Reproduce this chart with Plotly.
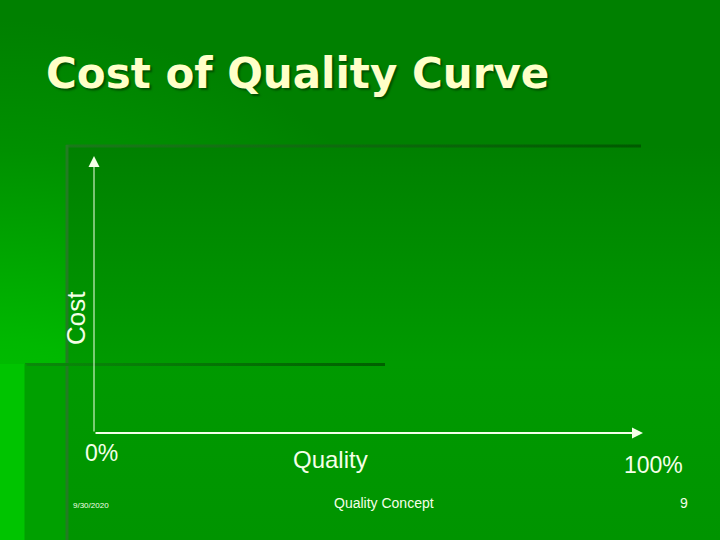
import base64
import plotly.graph_objects as go

# ---- chart content ----
title_text = "Cost of Quality Curve"
x_axis_title = "Quality"
y_axis_title = "Cost"
quality_ticks = [0, 100]
quality_tick_labels = ["0%", "100%"]
footer_date = "9/30/2020"
footer_center = "Quality Concept"
footer_page = "9"

W, H = 720, 540

# ---- slide background (decoration only) ----
svg = f"""<svg xmlns='http://www.w3.org/2000/svg' width='{W}' height='{H}' viewBox='0 0 {W} {H}'>
<defs>
<radialGradient id='bg' cx='0' cy='540' r='520' gradientUnits='userSpaceOnUse'>
<stop offset='0' stop-color='#00cc00'/>
<stop offset='0.38' stop-color='#00b800'/>
<stop offset='0.75' stop-color='#009000'/>
<stop offset='1' stop-color='#008000'/>
</radialGradient>
<linearGradient id='panel' x1='0' y1='145' x2='0' y2='540' gradientUnits='userSpaceOnUse'>
<stop offset='0' stop-color='#008000'/>
<stop offset='0.55' stop-color='#009a00'/>
<stop offset='1' stop-color='#009400'/>
</linearGradient>
<linearGradient id='topline' x1='66' y1='0' x2='641' y2='0' gradientUnits='userSpaceOnUse'>
<stop offset='0' stop-color='#1a7a1a'/>
<stop offset='1' stop-color='#005a00'/>
</linearGradient>
<linearGradient id='midline' x1='25' y1='0' x2='385' y2='0' gradientUnits='userSpaceOnUse'>
<stop offset='0' stop-color='#0a8a0a'/>
<stop offset='1' stop-color='#006000'/>
</linearGradient>
</defs>
<rect width='{W}' height='{H}' fill='url(#bg)'/>
<rect x='66' y='145' width='654' height='395' fill='url(#panel)'/>
<rect x='0' y='364' width='25' height='176' fill='#00c400'/>
<rect x='25' y='364' width='41' height='176' fill='#00a000'/>
<line x1='66' y1='146' x2='641' y2='146' stroke='url(#topline)' stroke-width='3'/>
<line x1='67' y1='145' x2='67' y2='540' stroke='#237d23' stroke-width='3'/>
<line x1='25' y1='364.5' x2='385' y2='364.5' stroke='url(#midline)' stroke-width='3'/>
<line x1='25.5' y1='364' x2='25.5' y2='540' stroke='#00a000' stroke-width='2'/>
</svg>"""
bg_uri = "data:image/svg+xml;base64," + base64.b64encode(svg.encode()).decode()

# plot area in pixels
X0, X1 = 94, 643
Y0, Y1 = 433, 156


def px(x):
    return x / W


def py(y):
    return 1 - y / H


fig = go.Figure()
fig.add_trace(go.Scatter(x=quality_ticks, y=[0, 0], mode="markers",
                         marker=dict(size=1, color="rgba(0,0,0,0)"),
                         hoverinfo="skip", showlegend=False))

txt_color = "#f4ffe8"
font_main = "Liberation Sans, Arial, sans-serif"

annotations = [
    # x axis arrow
    dict(x=100, y=0, ax=0, ay=0, xref="x", yref="y", axref="x", ayref="y",
         text="", showarrow=True, arrowhead=2, arrowsize=1.1, arrowwidth=2,
         arrowcolor="#f4ffe8", standoff=0, startstandoff=0),
    # y axis arrow
    dict(x=0, y=100, ax=0, ay=0, xref="x", yref="y", axref="x", ayref="y",
         text="", showarrow=True, arrowhead=2, arrowsize=2.2, arrowwidth=1,
         arrowcolor="#f4ffe8", standoff=0, startstandoff=0),
    # title
    dict(x=px(297), y=py(73), xref="paper", yref="paper", text=f"<b>{title_text}</b>",
         showarrow=False, xanchor="center", yanchor="middle",
         font=dict(family="DejaVu Sans, sans-serif", size=42, color="#ffffc8",
                   shadow="2px 2px 2px #005000")),
    # axis titles
    dict(x=px(330), y=py(459), xref="paper", yref="paper", text=x_axis_title,
         showarrow=False, xanchor="center", yanchor="middle",
         font=dict(family=font_main, size=24, color=txt_color)),
    dict(x=px(76), y=py(318), xref="paper", yref="paper", text=y_axis_title,
         showarrow=False, xanchor="center", yanchor="middle", textangle=-90,
         font=dict(family=font_main, size=26, color=txt_color)),
    # footer
    dict(x=px(91), y=py(505), xref="paper", yref="paper", text=footer_date,
         showarrow=False, xanchor="center", yanchor="middle",
         font=dict(family=font_main, size=8, color=txt_color)),
    dict(x=px(384), y=py(503), xref="paper", yref="paper", text=footer_center,
         showarrow=False, xanchor="center", yanchor="middle",
         font=dict(family=font_main, size=14, color=txt_color)),
    dict(x=px(684), y=py(503), xref="paper", yref="paper", text=footer_page,
         showarrow=False, xanchor="center", yanchor="middle",
         font=dict(family=font_main, size=14, color=txt_color)),
]

# tick labels (0% and 100%)
tick_shifts = [(7, -20), (10, -32)]
for val, lab, (xs, ys) in zip(quality_ticks, quality_tick_labels, tick_shifts):
    annotations.append(dict(x=val, y=0, xref="x", yref="y", text=lab,
                            showarrow=False, xanchor="center", yanchor="middle",
                            xshift=xs, yshift=ys,
                            font=dict(family=font_main, size=23, color=txt_color)))

fig.update_layout(
    width=W, height=H,
    margin=dict(l=0, r=0, t=0, b=0, pad=0),
    paper_bgcolor="#008800",
    plot_bgcolor="rgba(0,0,0,0)",
    showlegend=False,
    xaxis=dict(domain=[X0 / W, X1 / W], range=[0, 100], visible=False, fixedrange=True),
    yaxis=dict(domain=[1 - Y0 / H, 1 - Y1 / H], range=[0, 100], visible=False, fixedrange=True),
    annotations=annotations,
    images=[dict(source=bg_uri, xref="paper", yref="paper", x=0, y=1,
                 sizex=1, sizey=1, sizing="stretch", layer="below",
                 xanchor="left", yanchor="top")],
)

fig.write_html(
    "out.html",
    config={"displayModeBar": False},
    post_script="document.body.style.margin='0';document.body.style.padding='0';"
                "document.body.style.overflow='hidden';",
)
